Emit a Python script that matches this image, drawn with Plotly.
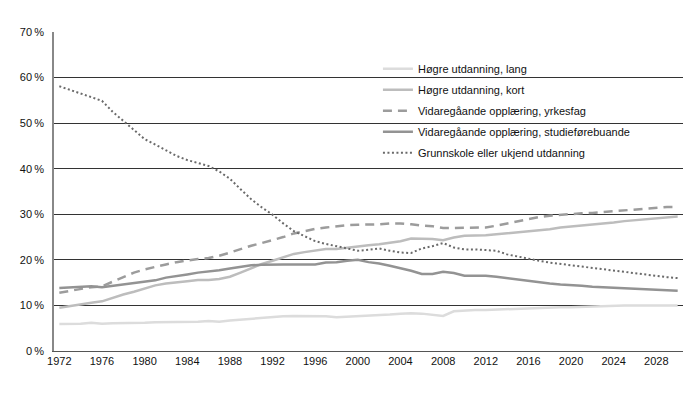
import plotly.graph_objects as go

years = list(range(1972, 2031))

hogre_lang = [5.9, 5.9, 6.0, 6.2, 6.0, 6.1, 6.1, 6.1, 6.2, 6.3,
              6.3, 6.3, 6.4, 6.4, 6.6, 6.4, 6.7, 6.9, 7.1, 7.3,
              7.4, 7.6, 7.7, 7.7, 7.7, 7.6, 7.4, 7.5, 7.6, 7.7,
              7.8, 8.0, 8.2, 8.3, 8.2, 8.0, 7.7, 8.7, 8.9, 9.0,
              9.0, 9.1, 9.1, 9.2, 9.3, 9.4, 9.5, 9.6, 9.6, 9.7,
              9.8, 9.8, 9.9, 10.0, 10.0, 10.0, 10.0, 10.0, 10.0]

hogre_kort = [9.5, 9.9, 10.2, 10.6, 10.9, 11.7, 12.4, 13.0, 13.7, 14.4,
              14.8, 15.0, 15.3, 15.6, 15.6, 15.8, 16.3, 17.2, 18.2, 19.1,
              19.8, 20.6, 21.3, 21.7, 22.1, 22.4, 22.4, 22.7, 23.0, 23.2,
              23.4, 23.8, 24.1, 24.7, 24.7, 24.6, 24.3, 24.9, 25.3, 25.3,
              25.4, 25.6, 25.8, 26.0, 26.2, 26.4, 26.7, 27.1, 27.3, 27.5,
              27.8, 28.0, 28.2, 28.5, 28.7, 28.9, 29.1, 29.3, 29.5]

yrkesfag = [12.8, 13.2, 13.6, 14.0, 14.2, 15.2, 16.3, 17.2, 17.9, 18.5,
            19.0, 19.5, 19.9, 20.2, 20.4, 20.9, 21.6, 22.4, 23.1, 23.7,
            24.3, 25.0, 25.8, 26.3, 26.8, 27.1, 27.4, 27.6, 27.7, 27.7,
            27.8, 28.0, 28.0, 27.8, 27.5, 27.4, 27.0, 27.0, 27.0, 27.0,
            27.1, 27.5, 28.0, 28.5, 29.0, 29.4, 29.7, 29.9, 30.0, 30.2,
            30.3, 30.5, 30.7, 30.9, 31.0, 31.2, 31.4, 31.6, 31.6]

studie = [13.8, 13.9, 14.0, 14.2, 14.0, 14.3, 14.6, 14.8, 15.1, 15.5,
          16.1, 16.4, 16.8, 17.2, 17.4, 17.7, 18.1, 18.5, 18.8, 18.9,
          19.0, 19.0, 19.0, 19.0, 19.0, 19.4, 19.5, 19.8, 20.0, 19.5,
          19.2, 18.7, 18.2, 17.6, 16.9, 16.9, 17.4, 17.1, 16.5, 16.5,
          16.5, 16.3, 16.0, 15.7, 15.3, 15.0, 14.8, 14.6, 14.5, 14.3,
          14.1, 14.0, 13.8, 13.7, 13.6, 13.5, 13.4, 13.3, 13.2]

grunnskole = [58.1, 57.3, 56.4, 55.6, 54.9, 52.5, 50.5, 48.3, 46.5, 45.3,
              44.0, 42.8, 41.9, 41.3, 40.6, 39.4, 37.8, 35.5, 33.3, 31.5,
              29.9, 28.0, 26.3, 25.2, 24.1, 23.5, 23.0, 22.4, 22.0, 22.2,
              22.5, 22.0, 21.6, 21.5, 22.5, 23.0, 23.7, 22.7, 22.3, 22.3,
              22.2, 22.0, 21.2, 20.7, 20.3, 19.8, 19.4, 19.1, 18.8, 18.5,
              18.3, 18.0, 17.6, 17.3, 17.0, 16.8, 16.5, 16.2, 16.0]

series_names = [
    "Høgre utdanning, lang",
    "Høgre utdanning, kort",
    "Vidaregåande opplæring, yrkesfag",
    "Vidaregåande opplæring, studieførebuande",
    "Grunnskole eller ukjend utdanning",
]
series_values = [hogre_lang, hogre_kort, yrkesfag, studie, grunnskole]

x_tick_vals = list(range(1972, 2029, 4))
y_tick_vals = [0, 10, 20, 30, 40, 50, 60, 70]
y_tick_text = [f"{v}\u2009%" for v in y_tick_vals]

styles = [
    dict(color="#dcdcdc", width=2.5, dash="solid"),
    dict(color="#bdbdbd", width=2.5, dash="solid"),
    dict(color="#9c9c9c", width=2.5, dash="9px,6px"),
    dict(color="#939393", width=2.5, dash="solid"),
    dict(color="#6a6a6a", width=2, dash="2px,2.5px"),
]

fig = go.Figure()
for i, (name, vals, st) in enumerate(zip(series_names, series_values, styles)):
    fig.add_trace(go.Scatter(
        x=years, y=vals, name=name, mode="lines",
        line=st, legendgroup=f"g{i}",
    ))

FONT = "Liberation Sans"
TXT = "#111"
fig.update_layout(
    width=692, height=385,
    margin=dict(l=44, r=17, t=24, b=42),
    paper_bgcolor="white", plot_bgcolor="white",
    font=dict(family=FONT, size=11, color=TXT),
    showlegend=True,
    legend=dict(
        x=0.515, y=0.93, xanchor="left", yanchor="top",
        bgcolor="rgba(0,0,0,0)", borderwidth=0,
        font=dict(family=FONT, size=11, color=TXT),
        traceorder="grouped", tracegroupgap=2,
        itemwidth=30,
    ),
    xaxis=dict(
        range=[1971.5, 2030.5],
        tickvals=x_tick_vals,
        ticktext=[str(v) for v in x_tick_vals],
        showgrid=False, zeroline=False,
        showline=True, linecolor="#555", linewidth=1,
        ticks="", ticklabelstandoff=0,
        tickfont=dict(family=FONT, size=11, color=TXT),
    ),
    yaxis=dict(
        range=[0, 70],
        tickvals=y_tick_vals, ticktext=y_tick_text,
        showgrid=True, gridcolor="#333", gridwidth=1,
        zeroline=False,
        showline=True, linecolor="#888", linewidth=1.5,
        ticks="", ticklabelstandoff=6,
        tickfont=dict(family=FONT, size=11, color=TXT),
    ),
)

fig.write_html("out.html")
